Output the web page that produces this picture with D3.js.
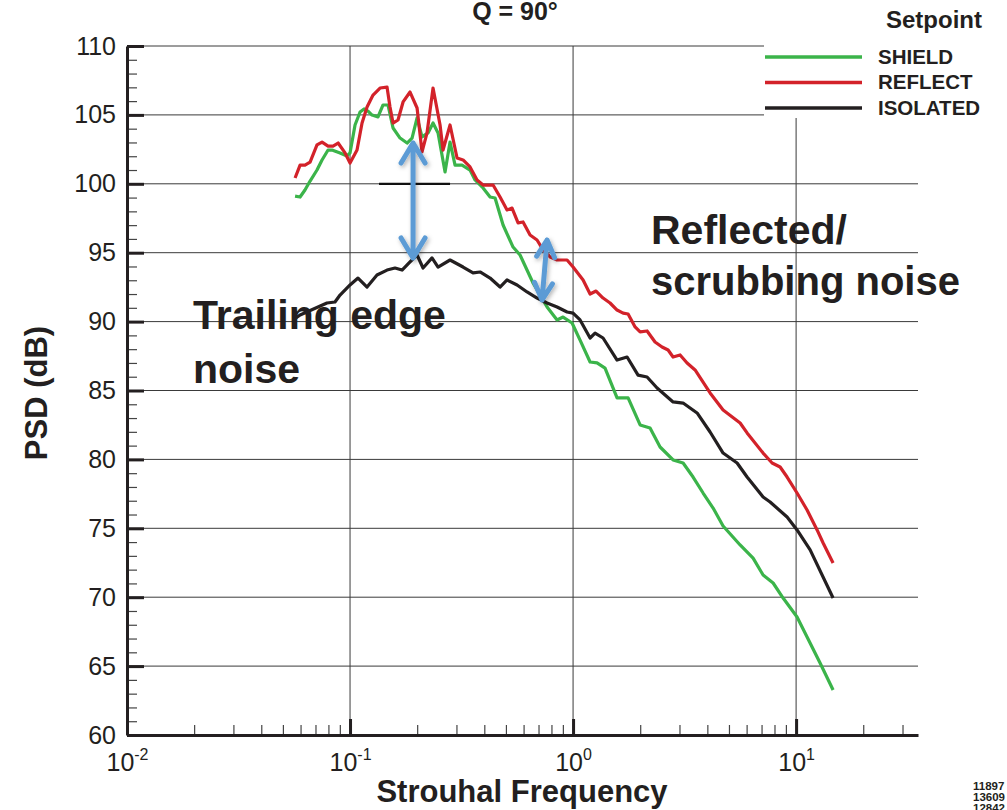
<!DOCTYPE html>
<html>
<head>
<meta charset="utf-8">
<script src="https://cdn.jsdelivr.net/npm/d3@7"></script>
<style>
  html, body { margin: 0; padding: 0; background: #fff; }
  svg { display: block; }
  text { font-family: "Liberation Sans", Arial, Helvetica, sans-serif; fill: #231f20; }
</style>
</head>
<body>
<svg id="chart" width="1007" height="810"></svg>
<script>
// ---- chart text ----
const chartTitle = "Q = 90°";
const xTitle = "Strouhal Frequency";
const yTitle = "PSD (dB)";
const legendTitle = "Setpoint";
const seriesNames = ["SHIELD", "REFLECT", "ISOLATED"];
const seriesColors = ["#3bb44a", "#d3222a", "#231f20"];
const runIds = ["11897", "13609", "12842"];

// ---- axis ticks ----
const yMajorTicks = [60, 65, 70, 75, 80, 85, 90, 95, 100, 105, 110];
const yMinorTicks = d3.range(60, 111, 1);
const xDecades = [0.01, 0.1, 1, 10];
const xDecadeExponents = ["-2", "-1", "0", "1"];
const xMinorTicks = [0.02,0.03,0.04,0.05,0.06,0.07,0.08,0.09,
                     0.2,0.3,0.4,0.5,0.6,0.7,0.8,0.9,
                     2,3,4,5,6,7,8,9,20,30];

// ---- spectra: Strouhal number / PSD (dB) ----
const shieldSt = [0.0567,0.0597,0.0628,0.0662,0.0711,0.0749,0.0797,0.0830,0.0902,0.0969,
  0.1000,0.1053,0.1109,0.1156,0.1204,0.1255,0.1335,0.1406,0.1480,0.1559,
  0.1676,0.1802,0.1897,0.1998,0.2103,0.2237,0.2356,0.2481,0.2667,0.2808,
  0.2957,0.3179,0.3452,0.3635,0.3949,0.4245,0.4470,0.4855,0.5382,0.5785,
  0.6615,0.7646,0.8478,0.9020,0.9897,1.075,1.192,1.281,1.391,1.575,
  1.765,1.998,2.214,2.455,2.808,3.114,3.452,3.828,4.245,4.706,
  5.610,6.415,7.112,7.887,8.745,10.10,11.20,12.81,14.65];
const shieldDb = [99.11,99.04,99.55,100.20,101.00,101.73,102.45,102.45,102.24,102.02,
  102.24,104.27,105.21,105.43,105.28,104.99,104.85,105.72,105.72,104.05,
  103.32,102.96,103.32,104.78,103.40,103.69,104.41,103.69,100.86,103.03,
  101.36,101.36,101.00,100.28,99.70,99.04,98.97,97.01,95.41,94.83,
  92.80,91.06,90.12,90.33,89.90,88.66,87.07,87.00,86.63,84.46,
  84.46,82.50,82.28,80.90,79.96,79.74,78.72,77.56,76.47,75.17,
  73.79,72.84,71.61,71.03,69.94,68.56,67.11,65.23,63.27];

const reflectSt = [0.0567,0.0597,0.0628,0.0662,0.0711,0.0749,0.0797,0.0839,0.0884,0.0950,
  0.1000,0.1075,0.1132,0.1192,0.1268,0.1363,0.1465,0.1511,0.1559,0.1641,
  0.1729,0.1858,0.1998,0.2103,0.2214,0.2356,0.2533,0.2612,0.2808,0.3019,
  0.3212,0.3452,0.3711,0.3949,0.4379,0.4706,0.5058,0.5327,0.5668,0.5967,
  0.6415,0.6894,0.7337,0.7887,0.8478,0.9400,1.000,1.109,1.192,1.268,
  1.363,1.465,1.575,1.676,1.765,1.897,1.998,2.147,2.331,2.506,
  2.667,2.808,3.019,3.245,3.524,4.115,4.706,5.610,6.030,7.112,
  7.806,8.478,9.113,10.10,11.20,12.42,13.22,14.65];
const reflectDb = [100.42,101.36,101.36,101.58,102.82,103.03,102.74,102.74,102.96,102.24,
  101.51,102.45,104.41,105.57,106.44,106.95,107.02,105.57,104.41,104.63,
  105.94,106.66,105.50,102.31,103.69,106.95,104.27,102.45,104.27,101.87,
  101.73,101.22,100.28,99.91,99.91,99.04,98.10,98.24,97.16,97.23,
  96.28,95.92,95.20,94.69,94.47,94.47,93.96,93.02,92.00,92.22,
  91.71,91.35,90.84,90.62,90.55,89.61,89.25,89.32,88.52,88.16,
  87.94,87.43,87.58,87.00,86.49,84.82,83.58,82.64,81.92,80.46,
  79.74,79.45,78.72,77.56,76.33,74.88,73.93,72.48];

const isolatedSt = [0.0572,0.0597,0.0788,0.0856,0.0902,0.1000,0.1086,0.1192,0.1321,0.1465,
  0.1591,0.1711,0.1858,0.1998,0.2125,0.2331,0.2481,0.2808,0.3212,0.3561,
  0.3828,0.4245,0.4706,0.5058,0.5610,0.6219,0.6894,0.7646,0.8478,0.9400,
  1.000,1.075,1.192,1.255,1.363,1.575,1.747,1.956,2.147,2.381,
  2.808,3.114,3.598,4.115,4.706,5.438,6.030,7.112,7.646,9.113,
  10.10,11.56,14.65];
const isolatedDb = [90.26,90.48,91.35,91.42,91.93,92.66,93.16,92.51,93.38,93.74,
  93.89,93.74,94.33,94.83,93.89,94.62,93.96,94.47,93.96,93.53,
  93.60,93.16,92.51,93.02,92.66,92.15,91.71,91.35,91.06,90.70,
  90.62,90.12,88.81,89.17,88.81,87.21,87.43,86.12,85.98,85.18,
  84.17,84.09,83.37,81.99,80.46,79.74,78.72,77.27,76.91,75.82,
  74.88,73.43,69.94];

// ---- annotation arrows, in data coordinates [St, dB] ----
const edgeArrow = [[0.1917, 102.96], [0.1917, 94.62]];
const scrubArrow = [[0.7646, 95.92], [0.7260, 91.57]];
const markerBar = [[0.1349, 100], [0.2808, 100]];

// ---- layout ----
const svg = d3.select("#chart");
const plotLeft = 127, plotRight = 918, plotTop = 46, plotBottom = 735;

const x = d3.scaleLog().domain([0.01, 35.2]).range([plotLeft, plotRight]);
const y = d3.scaleLinear().domain([60, 110]).range([plotBottom, plotTop]);

// grid
const grid = svg.append("g").attr("stroke", "#3a3a3a").attr("stroke-width", 1);
grid.selectAll("line.h").data(yMajorTicks.filter(d => d > 60)).join("line")
  .attr("x1", plotLeft).attr("x2", plotRight)
  .attr("y1", d => y(d)).attr("y2", d => y(d));
grid.selectAll("line.v").data(xDecades.filter(d => d > 0.01)).join("line")
  .attr("x1", d => x(d)).attr("x2", d => x(d))
  .attr("y1", plotTop).attr("y2", plotBottom);

// short bar at 100 dB under the annotation
svg.append("line")
  .attr("x1", x(markerBar[0][0])).attr("x2", x(markerBar[1][0]))
  .attr("y1", y(markerBar[0][1])).attr("y2", y(markerBar[1][1]))
  .attr("stroke", "#111").attr("stroke-width", 2.2);

// curves
const series = [
  { name: seriesNames[0], color: seriesColors[0], st: shieldSt, db: shieldDb },
  { name: seriesNames[1], color: seriesColors[1], st: reflectSt, db: reflectDb },
  { name: seriesNames[2], color: seriesColors[2], st: isolatedSt, db: isolatedDb }
];
const line = d3.line().x(d => x(d[0])).y(d => y(d[1]));
svg.append("g").selectAll("path").data(series).join("path")
  .attr("fill", "none")
  .attr("stroke", d => d.color)
  .attr("stroke-width", 3.2)
  .attr("stroke-linejoin", "round")
  .attr("d", d => line(d.st.map((s, i) => [s, d.db[i]])));

// axes
const yMinorAxis = d3.axisLeft(y).tickValues(yMinorTicks).tickSize(-10).tickSizeOuter(0).tickFormat("");
const yMajorAxis = d3.axisLeft(y).tickValues(yMajorTicks).tickSize(-17).tickSizeOuter(0).tickPadding(11);
const xMinorAxis = d3.axisBottom(x).tickValues(xMinorTicks).tickSize(-10).tickSizeOuter(0).tickFormat("");
const xMajorAxis = d3.axisBottom(x).tickValues(xDecades).tickSize(-16).tickSizeOuter(0).tickPadding(18);

const gYm = svg.append("g").attr("transform", `translate(${plotLeft},0)`).call(yMinorAxis);
gYm.selectAll(".tick line").attr("stroke", "#444").attr("stroke-width", 1.2);
gYm.select(".domain").remove();
const gY = svg.append("g").attr("transform", `translate(${plotLeft},0)`).call(yMajorAxis);
gY.select(".domain").attr("stroke", "#231f20").attr("stroke-width", 3);
gY.selectAll(".tick line").attr("stroke", "#231f20").attr("stroke-width", 3);
gY.selectAll(".tick text").attr("font-size", 25).attr("fill", "#231f20")
  .attr("font-family", "'Liberation Sans', Arial, sans-serif");

const gXm = svg.append("g").attr("transform", `translate(0,${plotBottom})`).call(xMinorAxis);
gXm.selectAll(".tick line").attr("stroke", "#444").attr("stroke-width", 1.2);
gXm.select(".domain").remove();
const gX = svg.append("g").attr("transform", `translate(0,${plotBottom})`).call(xMajorAxis);
gX.select(".domain").attr("stroke", "#231f20").attr("stroke-width", 3);
gX.selectAll(".tick line").attr("stroke", "#231f20").attr("stroke-width", 3);
gX.selectAll(".tick text").each(function(d, i) {
  const t = d3.select(this);
  t.text(null).attr("font-size", 25).attr("fill", "#231f20")
    .attr("font-family", "'Liberation Sans', Arial, sans-serif");
  t.append("tspan").text("10");
  t.append("tspan").attr("dy", "-0.7em").attr("font-size", 16).text(xDecadeExponents[i]);
});
gY.attr("font-family", null); gX.attr("font-family", null);

// legend
const legend = svg.append("g");
legend.append("rect").attr("x", 764).attr("y", 0).attr("width", 243).attr("height", 118).attr("fill", "#fff");
legend.append("text").attr("x", 886).attr("y", 28).attr("font-size", 24).attr("font-weight", "bold").text(legendTitle);
series.forEach((s, i) => {
  const ly = 57 + i * 25.5;
  legend.append("line").attr("x1", 765).attr("x2", 862).attr("y1", ly).attr("y2", ly)
    .attr("stroke", s.color).attr("stroke-width", 3.5);
  legend.append("text").attr("x", 878).attr("y", ly + 6.5).attr("font-size", 20.5)
    .attr("font-weight", "bold").text(s.name);
});

// titles
svg.append("text").attr("x", 515).attr("y", 20).attr("text-anchor", "middle")
  .attr("font-size", 25).attr("font-weight", "bold").text(chartTitle);
svg.append("text").attr("x", 522).attr("y", 802).attr("text-anchor", "middle")
  .attr("font-size", 31).attr("font-weight", "bold").text(xTitle);
svg.append("text").attr("transform", "translate(47,393) rotate(-90)").attr("text-anchor", "middle")
  .attr("font-size", 31).attr("font-weight", "bold").text(yTitle);

// run numbers in the corner
svg.append("g").selectAll("text").data(runIds).join("text")
  .attr("x", 973).attr("y", (d, i) => 790 + i * 11)
  .attr("font-size", 11.5).attr("font-weight", "bold").text(d => d);

// arrows
const defs = svg.append("defs");
const f = defs.append("filter").attr("id", "soft").attr("x", "-50%").attr("y", "-20%").attr("width", "200%").attr("height", "140%");
f.append("feDropShadow").attr("dx", 1.5).attr("dy", 2).attr("stdDeviation", 2)
  .attr("flood-color", "#000").attr("flood-opacity", 0.3);

function doubleArrow(pts, back, half) {
  const [ax, ay] = [x(pts[0][0]), y(pts[0][1])];
  const [bx, by] = [x(pts[1][0]), y(pts[1][1])];
  const len = Math.hypot(bx - ax, by - ay);
  const ux = (bx - ax) / len, uy = (by - ay) / len;
  const px = -uy, py = ux;
  const head = (tx, ty, dir) => {
    const cx = tx - dir * ux * back, cy = ty - dir * uy * back;
    return `M${cx + px * half},${cy + py * half}L${tx},${ty}L${cx - px * half},${cy - py * half}`;
  };
  return `M${ax},${ay}L${bx},${by}` + head(ax, ay, -1) + head(bx, by, 1);
}
const arrows = svg.append("g").attr("filter", "url(#soft)");
arrows.append("path").attr("d", doubleArrow(edgeArrow, 20, 12))
  .attr("fill", "none").attr("stroke", "#5b9bd5").attr("stroke-width", 5)
  .attr("stroke-linecap", "round").attr("stroke-linejoin", "round");
arrows.append("path").attr("d", doubleArrow(scrubArrow, 17, 9))
  .attr("fill", "none").attr("stroke", "#5b9bd5").attr("stroke-width", 5)
  .attr("stroke-linecap", "round").attr("stroke-linejoin", "round");

// annotation text
const note = svg.append("g").attr("font-weight", "bold")
  .style("font-family", "Lato, 'Open Sans', sans-serif");
note.append("text").attr("x", 193).attr("y", 329).attr("font-size", 41).text("Trailing edge");
note.append("text").attr("x", 193).attr("y", 383).attr("font-size", 41).text("noise");
note.append("text").attr("x", 651).attr("y", 244).attr("font-size", 41).text("Reflected/");
note.append("text").attr("x", 651).attr("y", 295).attr("font-size", 40).text("scrubbing noise");
</script>
</body>
</html>
